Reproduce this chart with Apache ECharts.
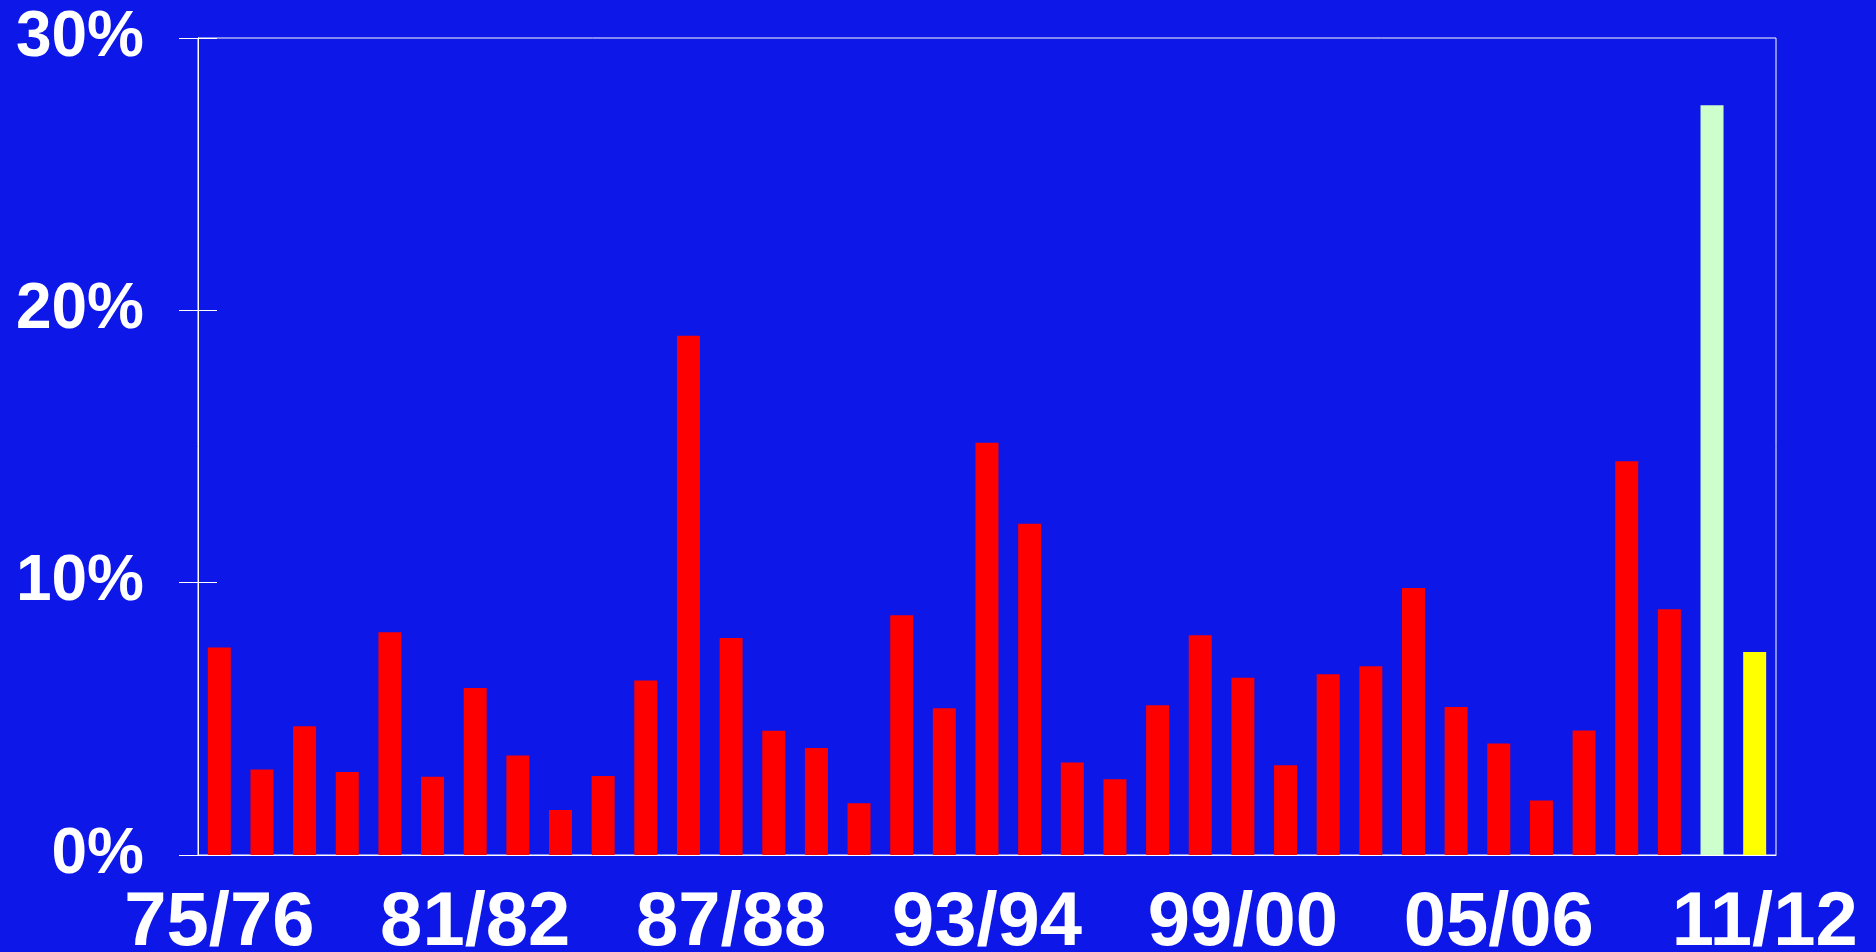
<!DOCTYPE html>
<html>
<head>
<meta charset="utf-8">
<script src="https://cdn.jsdelivr.net/npm/echarts@6/dist/echarts.min.js"></script>
<style>
html,body{margin:0;padding:0;background:#0D17E8;overflow:hidden;}
#chart{width:1876px;height:952px;}
</style>
</head>
<body>
<div id="chart"></div>
<script>
var seasons = ['75/76','76/77','77/78','78/79','79/80','80/81','81/82','82/83','83/84','84/85',
  '85/86','86/87','87/88','88/89','89/90','90/91','91/92','92/93','93/94','94/95',
  '95/96','96/97','97/98','98/99','99/00','00/01','01/02','02/03','03/04','04/05',
  '05/06','06/07','07/08','08/09','09/10','10/11','11/12'];
var values = [7.62, 3.14, 4.73, 3.05, 8.18, 2.87, 6.13, 3.65, 1.65, 2.90,
  6.41, 19.07, 7.97, 4.56, 3.93, 1.90, 8.80, 5.39, 15.14, 12.16,
  3.40, 2.78, 5.50, 8.07, 6.51, 3.30, 6.64, 6.93, 9.80, 5.43,
  4.09, 2.00, 4.57, 14.46, 9.02, 27.53, 7.45];
var yTicks = [0, 10, 20, 30];

var chart = echarts.init(document.getElementById('chart'));
var white = '#FFFFFF';
var font = 'Liberation Sans';
var yBase = {
  type: 'value', min: yTicks[0], max: yTicks[yTicks.length - 1], interval: 10,
  position: 'left',
  splitLine: { show: false },
  axisLine: { show: true, lineStyle: { color: white, width: 1 } }
};
chart.setOption({
  backgroundColor: '#0D17E8',
  animation: false,
  grid: { left: 198, right: 100, top: 38, bottom: 97, show: true, borderColor: white, borderWidth: 1,
    containLabel: false, outerBoundsMode: 'none' },
  xAxis: {
    type: 'category', data: seasons, boundaryGap: true,
    axisLine: { show: true, lineStyle: { color: white, width: 1 } },
    axisTick: { show: false },
    axisLabel: {
      interval: 5, color: white, fontFamily: font, fontWeight: 'bold', fontSize: 76, margin: 31,
      formatter: function (v, i) {
        return i === seasons.length - 1 ? '{last|' + v + '}' : v;
      },
      rich: {
        last: { color: white, fontFamily: font, fontWeight: 'bold', fontSize: 76, padding: [0, 0, 0, 20] }
      }
    }
  },
  yAxis: [
    Object.assign({}, yBase, {
      axisTick: { show: true, inside: true, length: 19, lineStyle: { color: white, width: 1 } },
      axisLabel: { color: white, fontFamily: font, fontWeight: 'bold', fontSize: 64, margin: 54,
        formatter: function (v) { return v + '%'; } }
    }),
    Object.assign({}, yBase, {
      axisTick: { show: true, inside: false, length: 19, lineStyle: { color: white, width: 1 } },
      axisLabel: { show: false }
    })
  ],
  series: [{
    type: 'bar', data: values, barWidth: 23,
    itemStyle: {
      color: function (p) {
        if (p.dataIndex === values.length - 2) return '#CCFFCC';
        if (p.dataIndex === values.length - 1) return '#FFFF00';
        return '#FF0000';
      }
    }
  }]
});
</script>
</body>
</html>
